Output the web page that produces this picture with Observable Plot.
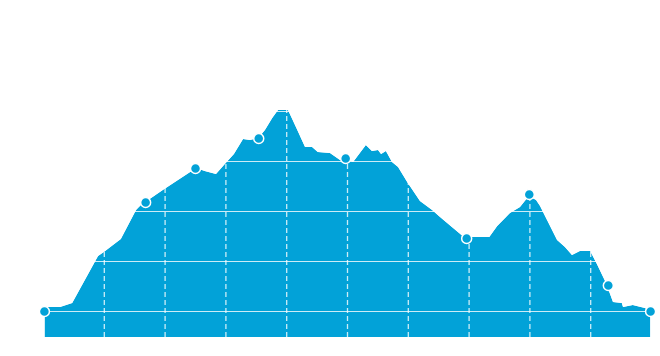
<!DOCTYPE html>
<html>
<head>
<meta charset="utf-8">
<script src="https://cdn.jsdelivr.net/npm/d3@7"></script>
<script src="https://cdn.jsdelivr.net/npm/@observablehq/plot@0.6"></script>
<style>
  html, body { margin: 0; padding: 0; background: #fff; }
</style>
</head>
<body>
<div id="chart"></div>
<script>
// Elevation profile (distance along route, elevation)
const distance = [0.3, 2.8, 4.8, 9.05, 10.0, 12.8, 15.3, 16.1, 19.7, 25.2, 26.6, 28.45, 29.9, 31.4, 32.9, 34.05, 35.4, 36.5, 37.7, 38.65, 40.3, 41.6, 43.1, 44.25, 45.2, 47.2, 48.85, 49.7, 51.0, 53.1, 54.1, 55.1, 55.6, 56.4, 57.4, 58.4, 59.9, 62.0, 64.0, 65.3, 69.6, 70.2, 73.4, 74.7, 76.8, 78.45, 79.9, 81.1, 81.75, 82.9, 84.55, 85.85, 87.0, 88.3, 90.0, 91.1, 92.6, 93.75, 95.2, 95.4, 97.0, 99.0, 99.85];
const elevation = [108, 108, 116, 210, 218, 244, 302, 312, 342, 386, 380, 374, 394, 414, 444, 442, 446, 462, 486, 502, 502, 468, 428, 428, 418, 416, 402, 404, 398, 432, 420, 422, 414, 420, 398, 388, 358, 320, 302, 288, 244, 248, 248, 270, 296, 308, 330, 322, 310, 282, 242, 228, 212, 220, 220, 194, 156, 118, 116, 108, 112, 106, 100];

// Waypoints
const waypointDistance = [0.15, 16.8, 25.0, 35.4, 49.7, 69.6, 79.9, 92.9, 99.85];
const waypointElevation = [100, 318, 386, 446, 406, 246, 334, 152, 100];

// Grid ticks
const elevationTicks = [100, 200, 300, 400, 500];
const distanceTicks = [10, 20, 30, 40, 50, 60, 70, 80, 90];

const yMin = 48, yMax = 722;
const blue = "#02a2d8";

const profile = distance.map((d, i) => ({d, e: elevation[i]}));
const waypoints = waypointDistance.map((d, i) => ({d, e: waypointElevation[i]}));

const chart = Plot.plot({
  width: 660,
  height: 356,
  marginLeft: 43,
  marginRight: 9,
  marginTop: 0,
  marginBottom: 19,
  x: {domain: [0, 100], axis: null},
  y: {domain: [yMin, yMax], axis: null},
  marks: [
    Plot.areaY(profile, {x: "d", y1: yMin, y2: "e", fill: blue}),
    Plot.ruleY(elevationTicks, {stroke: "#fff", strokeOpacity: 0.8, strokeWidth: 1.2}),
    Plot.ruleX(distanceTicks, {y1: yMin, y2: yMax, stroke: "#fff", strokeOpacity: 0.8, strokeWidth: 1.3, strokeDasharray: "5,3"}),
    Plot.areaY(profile, {x: "d", y1: "e", y2: yMax, fill: "#fff"}),
    Plot.dot(waypoints, {x: "d", y: "e", r: 5, fill: blue, stroke: "#fff", strokeWidth: 1.5})
  ]
});
document.getElementById("chart").append(chart);
</script>
</body>
</html>
